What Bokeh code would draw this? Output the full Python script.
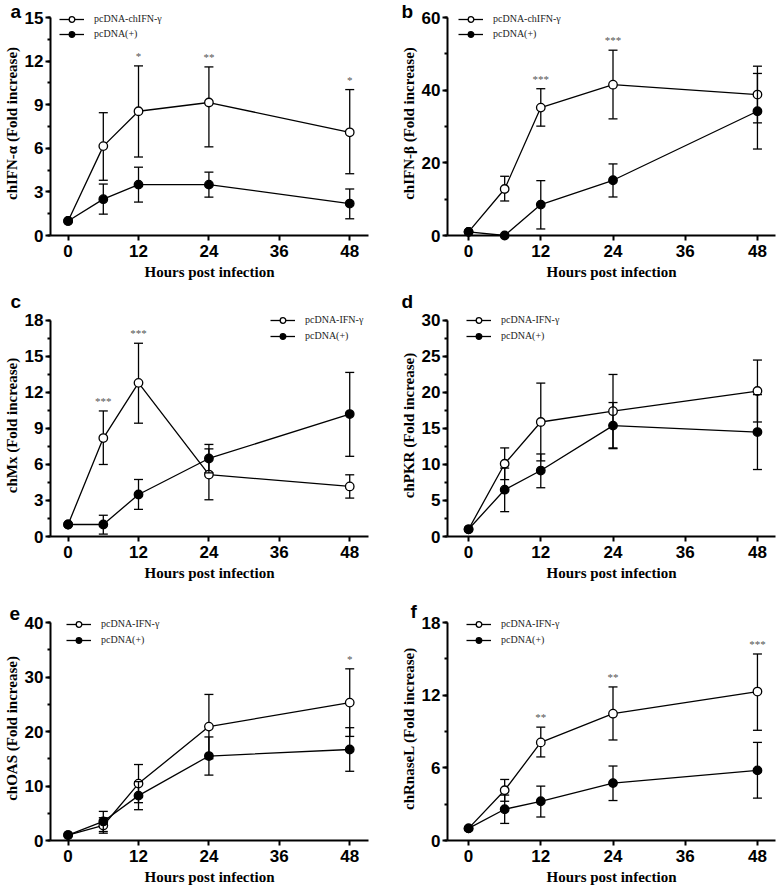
from bokeh.plotting import figure
from bokeh.models import (ColumnDataSource, Range1d, SingleIntervalTicker, FixedTicker,
                          Title, Legend, LegendItem)
from bokeh.layouts import column, row
from bokeh.embed import file_html
from bokeh.resources import INLINE
from bokeh.core.properties import value

# ---------------- data ----------------
HOURS = [0, 6, 12, 24, 48]
X_TICKS = [0, 12, 24, 36, 48]
X_TITLE = "Hours post infection"

# panel a: chIFN-alpha
A_YTITLE = "chIFN-α (Fold increase)"
A_LABELS = ["pcDNA-chIFN-γ", "pcDNA(+)"]
A_YMAX, A_YSTEP = 15, 3
A_OPEN = [1.0, 6.15, 8.55, 9.15, 7.1]
A_OPEN_UP = [1.0, 8.45, 11.67, 11.6, 10.04]
A_OPEN_LO = [1.0, 3.8, 5.4, 6.1, 4.25]
A_FILL = [1.0, 2.5, 3.5, 3.5, 2.2]
A_FILL_UP = [1.0, 3.54, 4.7, 4.36, 3.2]
A_FILL_LO = [1.0, 1.47, 2.3, 2.64, 1.15]
A_STARS = ["", "", "*", "**", "*"]

# panel b: chIFN-beta
B_YTITLE = "chIFN-β (Fold increase)"
B_LABELS = ["pcDNA-chIFN-γ", "pcDNA(+)"]
B_YMAX, B_YSTEP = 60, 20
B_OPEN = [1.0, 12.8, 35.2, 41.5, 38.8]
B_OPEN_UP = [1.0, 16.3, 40.4, 51.0, 46.6]
B_OPEN_LO = [1.0, 9.5, 30.1, 32.1, 31.0]
B_FILL = [1.0, 0.0, 8.5, 15.2, 34.2]
B_FILL_UP = [1.0, 0.0, 15.1, 19.7, 44.6]
B_FILL_LO = [1.0, 0.0, 1.8, 10.6, 23.8]
B_STARS = ["", "", "***", "***", ""]

# panel c: chMx
C_YTITLE = "chMx (Fold increase)"
C_LABELS = ["pcDNA-IFN-γ", "pcDNA(+)"]
C_YMAX, C_YSTEP = 18, 3
C_OPEN = [1.0, 8.2, 12.8, 5.16, 4.17]
C_OPEN_UP = [1.0, 10.46, 16.1, 7.3, 5.14]
C_OPEN_LO = [1.0, 6.0, 9.44, 3.06, 3.2]
C_FILL = [1.0, 1.0, 3.5, 6.5, 10.2]
C_FILL_UP = [1.0, 1.77, 4.75, 7.67, 13.67]
C_FILL_LO = [1.0, 0.2, 2.26, 5.3, 6.68]
C_STARS = ["", "***", "***", "", ""]

# panel d: chPKR
D_YTITLE = "chPKR (Fold increase)"
D_LABELS = ["pcDNA-IFN-γ", "pcDNA(+)"]
D_YMAX, D_YSTEP = 30, 5
D_OPEN = [1.0, 10.1, 15.9, 17.4, 20.2]
D_OPEN_UP = [1.0, 12.3, 21.3, 22.5, 24.5]
D_OPEN_LO = [1.0, 7.9, 10.5, 12.3, 15.9]
D_FILL = [1.0, 6.5, 9.16, 15.4, 14.5]
D_FILL_UP = [1.0, 9.5, 11.46, 18.6, 19.7]
D_FILL_LO = [1.0, 3.45, 6.77, 12.2, 9.3]
D_STARS = ["", "", "", "", ""]

# panel e: chOAS
E_YTITLE = "chOAS (Fold increase)"
E_LABELS = ["pcDNA-IFN-γ", "pcDNA(+)"]
E_YMAX, E_YSTEP = 40, 10
E_OPEN = [1.0, 2.76, 10.44, 20.9, 25.3]
E_OPEN_UP = [1.0, 4.18, 13.94, 26.8, 31.5]
E_OPEN_LO = [1.0, 1.34, 6.94, 15.0, 19.1]
E_FILL = [1.0, 3.5, 8.23, 15.5, 16.7]
E_FILL_UP = [1.0, 5.34, 10.8, 19.0, 20.7]
E_FILL_LO = [1.0, 1.65, 5.65, 12.0, 12.7]
E_STARS = ["", "", "", "", "*"]

# panel f: chRnaseL
F_YTITLE = "chRnaseL (Fold increase)"
F_LABELS = ["pcDNA-IFN-γ", "pcDNA(+)"]
F_YMAX, F_YSTEP = 18, 6
F_OPEN = [1.0, 4.15, 8.1, 10.47, 12.3]
F_OPEN_UP = [1.0, 5.04, 9.36, 12.68, 15.4]
F_OPEN_LO = [1.0, 3.24, 6.9, 8.3, 9.1]
F_FILL = [1.0, 2.58, 3.24, 4.74, 5.79]
F_FILL_UP = [1.0, 3.75, 4.49, 6.15, 8.1]
F_FILL_LO = [1.0, 1.41, 1.94, 3.3, 3.5]
F_STARS = ["", "", "**", "**", "***"]

# ---------------- styling ----------------
AXIS_H = 218   # pixel height of the drawn y axis
EXT = 6        # extra frame pixels above the axis top (room for the legend)
SANS = "Liberation Sans"
SERIF = "Liberation Serif"
LW = 1.3
MSIZE = 8.5


def series(p, x, mean, up, lo, filled):
    idx = [i for i in range(len(x)) if up[i] != lo[i]]
    err = ColumnDataSource(dict(x=[x[i] for i in idx], up=[up[i] for i in idx],
                                lo=[lo[i] for i in idx]))
    p.segment(x0="x", y0="lo", x1="x", y1="up", source=err, line_color="black",
              line_width=LW, level="overlay")
    p.scatter(x="x", y="up", source=err, marker="dash", size=9, line_color="black",
              line_width=LW, level="overlay")
    p.scatter(x="x", y="lo", source=err, marker="dash", size=9, line_color="black",
              line_width=LW, level="overlay")
    src = ColumnDataSource(dict(x=x, y=mean))
    ln = p.line(x="x", y="y", source=src, line_color="black", line_width=LW, level="overlay")
    sc = p.scatter(x="x", y="y", source=src, marker="circle", size=MSIZE,
                   line_color="black", line_width=LW,
                   fill_color="black" if filled else "white", level="overlay")
    return ln, sc


def panel(letter, ytitle, labels, ymax, ystep, om, ou, ol, fm, fu, fl, stars,
          left_col, top, bottom, leg_x, leg_spacing, letter_dx, letter_so):
    if left_col:
        width, bl, br, xr = 389, 43, 21, (-3.0, 51.2)
    else:
        width, bl, br, xr = 388, 58, 2, (-3.5, 51.0)
    ytop = ymax * (AXIS_H + EXT) / AXIS_H
    p = figure(width=width, height=top + AXIS_H + EXT + bottom, output_backend="svg",
               toolbar_location=None, x_range=Range1d(*xr), y_range=Range1d(0, ytop),
               min_border_left=bl, min_border_right=br, min_border_top=top,
               min_border_bottom=bottom)
    p.outline_line_color = None
    p.xgrid.visible = False
    p.ygrid.visible = False

    for ax in (p.xaxis[0], p.yaxis[0]):
        ax.axis_line_width = 2
        ax.axis_line_color = "black"
        ax.major_tick_in = 0
        ax.major_tick_out = 5
        ax.major_tick_line_width = 2
        ax.minor_tick_in = 0
        ax.minor_tick_out = 3
        ax.minor_tick_line_width = 2
        ax.major_label_text_font = SANS
        ax.major_label_text_font_style = "bold"
        ax.major_label_text_font_size = "17px"
        ax.major_label_text_color = "black"
        ax.axis_label_text_font = SERIF
        ax.axis_label_text_font_style = "bold"
        ax.axis_label_text_font_size = "15px"
        ax.axis_label_text_color = "black"
    p.xaxis.ticker = FixedTicker(ticks=X_TICKS)
    p.yaxis.ticker = SingleIntervalTicker(interval=ystep, num_minor_ticks=2)
    p.yaxis.bounds = (0, ymax)
    p.xaxis.major_label_standoff = 4
    p.xaxis.axis_label_standoff = 4
    p.xaxis.axis_label = X_TITLE
    p.yaxis.major_label_standoff = 2
    p.yaxis.axis_label_standoff = 2
    p.yaxis.axis_label = ytitle

    # panel letter as a title in the top border, shifted left of the frame
    p.add_layout(Title(text=letter, align="left", offset=letter_dx, standoff=letter_so,
                       vertical_align="bottom", text_font=SANS, text_font_style="bold",
                       text_font_size="19px", text_color="black"), "above")

    r_open = series(p, HOURS, om, ou, ol, filled=False)
    r_fill = series(p, HOURS, fm, fu, fl, filled=True)

    sidx = [i for i in range(len(HOURS)) if stars[i]]
    ssrc = ColumnDataSource(dict(x=[HOURS[i] for i in sidx],
                                 y=[max(ou[i], fu[i]) for i in sidx],
                                 t=[stars[i] for i in sidx]))
    p.text(x="x", y="y", text="t", source=ssrc, text_font=value(SERIF),
           text_font_size="11px", text_color="#555555", text_align="center",
           text_baseline="alphabetic", y_offset=-10, level="overlay")

    leg_h = 30 + leg_spacing
    legend = Legend(items=[LegendItem(label=labels[0], renderers=list(r_open)),
                           LegendItem(label=labels[1], renderers=list(r_fill))],
                    location=(leg_x, AXIS_H + 7.5 - leg_h), padding=0, margin=0,
                    spacing=leg_spacing, glyph_width=25, glyph_height=14,
                    label_height=14, label_standoff=10, label_text_font=SERIF,
                    label_text_font_size="10px", label_text_color="#222222",
                    border_line_color=None, background_fill_alpha=0)
    p.add_layout(legend)
    return p


pa = panel("a", A_YTITLE, A_LABELS, A_YMAX, A_YSTEP, A_OPEN, A_OPEN_UP, A_OPEN_LO,
           A_FILL, A_FILL_UP, A_FILL_LO, A_STARS, True, 11, 50, 9, 1, -40, -20)
pb = panel("b", B_YTITLE, B_LABELS, B_YMAX, B_YSTEP, B_OPEN, B_OPEN_UP, B_OPEN_LO,
           B_FILL, B_FILL_UP, B_FILL_LO, B_STARS, False, 11, 50, 11, 1, -46, -20)
pc = panel("c", C_YTITLE, C_LABELS, C_YMAX, C_YSTEP, C_OPEN, C_OPEN_UP, C_OPEN_LO,
           C_FILL, C_FILL_UP, C_FILL_LO, C_STARS, True, 27, 50, 220, 2, -40, 6)
pd_ = panel("d", D_YTITLE, D_LABELS, D_YMAX, D_YSTEP, D_OPEN, D_OPEN_UP, D_OPEN_LO,
            D_FILL, D_FILL_UP, D_FILL_LO, D_STARS, False, 27, 50, 19, 2, -46, 6)
pe = panel("e", E_YTITLE, E_LABELS, E_YMAX, E_YSTEP, E_OPEN, E_OPEN_UP, E_OPEN_LO,
           E_FILL, E_FILL_UP, E_FILL_LO, E_STARS, True, 30, 49, 16, 2, -41, -6)
pf = panel("f", F_YTITLE, F_LABELS, F_YMAX, F_YSTEP, F_OPEN, F_OPEN_UP, F_OPEN_LO,
           F_FILL, F_FILL_UP, F_FILL_LO, F_STARS, False, 30, 49, 19, 2, -37, -10)

layout = column(row(pa, pb), row(pc, pd_), row(pe, pf))
open("out.html", "w").write(file_html(layout, INLINE, "Fold increase"))
